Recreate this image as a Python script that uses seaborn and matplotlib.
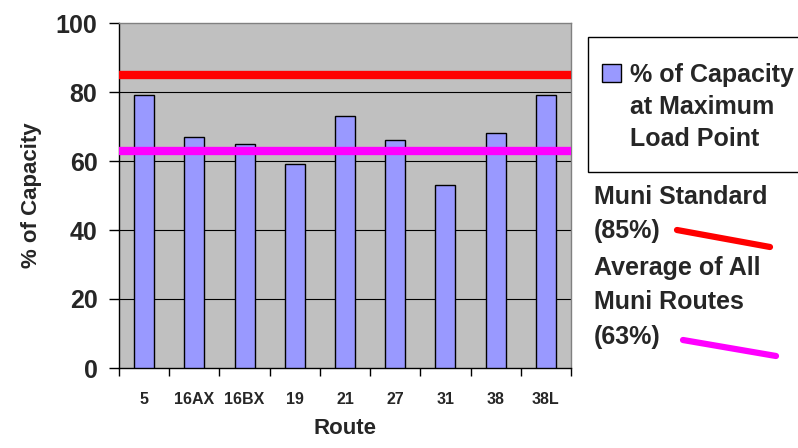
import matplotlib
matplotlib.use("Agg")
import matplotlib.pyplot as plt
from matplotlib.lines import Line2D
from matplotlib.patches import Patch, Rectangle
import seaborn as sns
import pandas as pd

routes = ["5", "16AX", "16BX", "19", "21", "27", "31", "38", "38L"]
capacity = [79, 67, 65, 59, 73, 66, 53, 68, 79]
muni_standard = 85
muni_average = 63
y_ticks = [0, 20, 40, 60, 80, 100]

sns.set_theme(style="white")
plt.rcParams["font.family"] = ["Liberation Sans", "DejaVu Sans"]

df = pd.DataFrame({"Route": routes, "Capacity": capacity})

fig = plt.figure(figsize=(7.98, 4.48), dpi=100)
ax = fig.add_axes([119/798, 1-368/448, (571-119)/798, (368-23)/448])
ax.set_facecolor("#C0C0C0")

sns.barplot(data=df, x="Route", y="Capacity", color="#9999FF", width=0.4,
            edgecolor="black", linewidth=1, saturation=1, ax=ax, zorder=3)

ax.axhline(muni_standard, color="#FF0000", lw=6, zorder=4)
ax.axhline(muni_average, color="#FF00FF", lw=6, zorder=4)

ax.set_ylim(0, 100)
ax.set_xlim(-0.5, len(routes) - 0.5)
ax.set_yticks(y_ticks)
ax.set_yticklabels([str(v) for v in y_ticks], fontsize=18, fontweight="bold")
for v in y_ticks[1:-1]:
    ax.axhline(v, color="black", lw=0.8, zorder=1)

ax.set_xticks([i - 0.5 for i in range(len(routes) + 1)])
ax.set_xticklabels([])
ax.set_xticks(range(len(routes)), minor=True)
ax.set_xticklabels(routes, minor=True, fontsize=11.5, fontweight="bold")
ax.tick_params(axis="x", which="major", direction="out", length=6, width=1, color="black", bottom=True)
ax.tick_params(axis="x", which="minor", length=0, pad=17)
ax.tick_params(axis="y", direction="out", length=7, width=1, color="black", left=True, pad=8.5)

ax.set_xlabel("Route", fontsize=16, fontweight="bold", labelpad=8)
ax.set_ylabel("% of Capacity", fontsize=16, fontweight="bold", labelpad=10)

for s in ["top", "right"]:
    ax.spines[s].set_color("#808080")
    ax.spines[s].set_linewidth(1)
for s in ["left", "bottom"]:
    ax.spines[s].set_color("black")
    ax.spines[s].set_linewidth(1)
    ax.spines[s].set_visible(True)

# legend frame
fig.add_artist(Rectangle((588/798, 1-172/448), (812-588)/798, (172-37)/448,
                         transform=fig.transFigure, facecolor="white",
                         edgecolor="black", linewidth=1, zorder=1))
handle = Patch(facecolor="#9999FF", edgecolor="black", linewidth=1)
blank = Patch(facecolor="none", edgecolor="none")
leg = fig.legend([handle, blank, blank], ["% of Capacity", "at Maximum", "Load Point"],
                 loc="upper left", bbox_to_anchor=(602/798, 1-63/448),
                 fontsize=18, frameon=False, borderpad=0,
                 handlelength=0.75, handleheight=0.75, handletextpad=0.35,
                 labelspacing=0.32, borderaxespad=0)
leg.set_zorder(2)
for t in leg.get_texts():
    t.set_fontweight("bold")

fig.text(594/798, 1-197/448, "Muni Standard", fontsize=18, fontweight="bold", va="center", ha="left")
fig.text(594/798, 1-231/448, "(85%)", fontsize=18, fontweight="bold", va="center", ha="left")
fig.text(594/798, 1-268/448, "Average of All", fontsize=18, fontweight="bold", va="center", ha="left")
fig.text(594/798, 1-302/448, "Muni Routes", fontsize=18, fontweight="bold", va="center", ha="left")
fig.text(594/798, 1-337/448, "(63%)", fontsize=18, fontweight="bold", va="center", ha="left")
fig.add_artist(Line2D([677/798, 770/798], [1-230/448, 1-247/448], color="#FF0000", lw=4.5,
                      transform=fig.transFigure))
fig.add_artist(Line2D([683/798, 776/798], [1-340/448, 1-356/448], color="#FF00FF", lw=4.5,
                      transform=fig.transFigure))

fig.savefig("out.png", dpi=100)
